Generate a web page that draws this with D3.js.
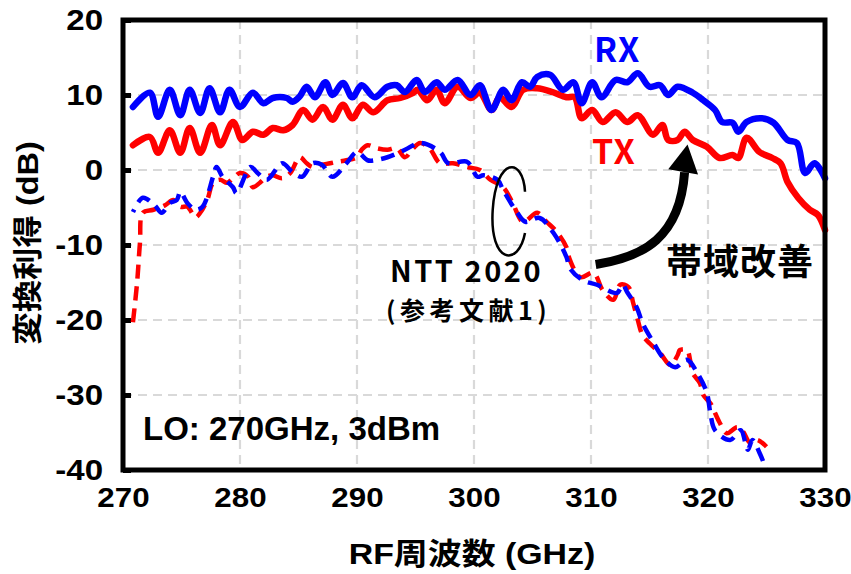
<!DOCTYPE html>
<html><head><meta charset="utf-8">
<script src="https://cdn.jsdelivr.net/npm/d3@7"></script>
<style>
html,body{margin:0;padding:0;background:#fff;}
svg{display:block;}
</style></head>
<body><svg id="c" width="851" height="574"></svg>
<script>
// RF frequency (GHz) / conversion gain (dB)
const rxFreq = [270.85,272.3,273.0,274.0,274.9,275.7,276.6,277.4,278.3,279.1,280.0,281.1,282.0,282.8,284.0,284.5,285.1,285.7,286.4,287.3,287.9,288.8,289.6,290.4,291.5,292.6,293.4,294.1,295.1,295.8,296.8,297.5,298.6,299.7,300.5,301.5,302.5,303.2,304.1,304.8,305.4,306.5,307.6,308.5,309.2,310.1,310.9,312.1,313.1,314.0,315.0,315.9,316.6,317.4,318.7,319.6,320.6,321.2,322.1,322.6,323.3,324.6,325.6,326.8,327.6,328.3,329.1,330.0];
const rxGain = [8.4,10.3,7.1,10.7,7.3,10.7,7.6,10.9,7.7,10.7,8.4,10.3,8.9,9.6,9.6,9.1,9.8,11.1,9.7,11.7,10.0,11.6,9.7,11.3,9.7,11.1,11.3,10.4,12.0,10.4,11.7,10.7,12.0,10.0,11.3,8.0,10.7,9.3,11.7,11.1,12.4,12.7,10.7,11.7,8.9,11.7,9.7,12.0,11.7,12.9,11.1,11.3,10.0,11.1,10.3,9.3,8.0,6.4,6.3,5.1,6.4,6.9,6.3,4.0,3.6,-0.4,0.9,-1.1];

const txFreq = [270.85,272.3,273.0,274.0,274.9,275.7,276.6,277.6,278.3,279.4,280.2,281.1,282.0,282.8,283.7,284.5,285.4,286.2,287.1,287.9,288.8,289.6,290.5,291.4,292.6,293.7,294.8,295.2,296.0,296.8,297.5,298.6,299.7,300.5,301.5,302.2,303.2,304.2,305.4,306.7,307.9,308.6,309.2,310.1,311.0,312.1,313.1,314.0,315.3,316.1,316.6,317.4,318.0,318.7,319.9,321.0,322.1,322.6,323.3,324.4,325.5,326.2,326.8,327.7,328.7,329.4,330.0];
const txGain = [3.3,4.4,2.3,5.3,2.3,5.6,2.3,6.0,3.3,6.4,4.0,5.1,4.7,5.6,5.3,6.0,8.0,6.7,8.4,6.7,8.7,6.9,8.7,7.7,9.3,9.6,10.3,10.7,9.3,10.7,8.9,11.1,9.6,10.3,8.0,9.7,8.4,10.7,10.9,10.4,9.7,9.7,6.9,8.0,6.4,7.7,6.4,7.3,4.7,6.0,4.0,4.0,5.1,4.0,3.1,1.6,2.0,1.6,4.3,2.4,1.6,0.9,-1.6,-3.7,-5.3,-6.0,-8.0];

// NTT 2020 (reference 1)
const nttTxFreq = [270.85,271.2,271.45,271.7,272.6,273.6,274.3,274.9,275.5,276.2,276.6,277.2,277.7,278.3,278.9,279.4,280.0,280.7,281.1,281.7,282.3,282.8,283.6,284.3,285.1,285.7,286.2,287.0,287.7,288.3,289.1,290.0,290.4,290.9,291.7,292.6,293.4,294.1,294.8,295.4,296.2,297.1,298.2,299.4,300.5,301.4,302.5,303.3,304.2,305.4,306.2,307.1,307.9,308.2,309.1,310.2,311.0,311.9,312.5,313.2,313.6,314.0,314.4,315.0,315.9,316.8,317.4,317.6,318.2,318.5,318.7,319.3,319.6,320.2,320.6,321.0,321.6,322.5,323.0,323.6,324.2,325.0];
const nttTxGain = [-20.3,-15.1,-9.7,-5.7,-5.3,-4.7,-4.0,-4.9,-4.9,-6.3,-5.7,-4.0,-1.7,-1.3,-1.7,-1.1,-0.4,-0.9,-2.3,-1.7,-0.9,-0.7,-1.1,-0.4,1.7,0.9,0.4,0.7,0.9,1.1,1.3,1.7,2.7,3.3,2.9,2.7,2.9,1.7,2.9,3.6,2.9,0.9,0.9,0.4,0,-1.3,-2.3,-4.4,-6.9,-5.7,-6.9,-8.3,-10.3,-12.0,-14.3,-13.7,-16.0,-17.3,-15.3,-15.6,-17.7,-20.0,-22.0,-23.1,-24.4,-26.0,-24.7,-24.0,-24.0,-25.6,-27.1,-28.4,-30.0,-31.1,-32.4,-33.7,-35.1,-34.3,-34.9,-36.4,-36.0,-36.9];

const nttRxFreq = [270.85,271.7,272.7,273.3,274.0,274.6,274.9,275.5,276.2,276.8,277.7,278.0,278.5,279.4,279.7,280.9,281.5,282.3,283.6,284.5,285.3,286.2,287.0,287.9,289.1,290.0,290.9,291.5,292.6,294.1,295.4,297.1,297.8,299.4,300.3,300.8,302.0,302.5,303.7,304.4,305.6,306.8,307.9,308.2,309.3,310.5,312.2,312.7,313.1,313.9,314.4,315.3,316.2,317.2,318.2,319.1,319.9,320.2,320.6,321.9,322.8,323.4,323.8,324.4,325.0];
const nttRxGain = [-5.6,-3.7,-4.7,-5.7,-4.4,-4.0,-2.9,-4.4,-5.3,-4.9,-0.9,0.4,-0.9,-2.3,-3.1,0.4,-0.4,-1.3,0.9,-0.3,-0.9,0.9,0.7,-0.9,0.9,2.4,1.3,1.3,1.7,2.7,3.6,2.4,0.9,1.1,-0.9,-0.7,-1.3,-2.7,-5.7,-6.9,-6.4,-8.4,-11.6,-13.1,-14.7,-15.3,-16.4,-15.3,-16.3,-18.3,-20.4,-22.9,-25.1,-26.3,-25.3,-27.1,-29.7,-32.4,-34.7,-36.0,-34.7,-37.3,-36.0,-37.7,-40.0];

const xTicks = [270,280,290,300,310,320,330];
const yTicks = [-40,-30,-20,-10,0,10,20];

const svg = d3.select("#c");
const x = d3.scaleLinear().domain([270,330]).range([123,825]);
const y = d3.scaleLinear().domain([-40,20]).range([470,20]);
const latin = "'Liberation Sans', Arial, 'Noto Sans CJK JP', sans-serif";
const cjk = "'Noto Sans CJK JP', 'Liberation Sans', sans-serif";

// grid
const g = svg.append("g");
g.selectAll(".gx").data(xTicks.slice(1,-1)).join("line")
  .attr("x1",d=>x(d)).attr("x2",d=>x(d)).attr("y1",y(20)).attr("y2",y(-40))
  .attr("stroke","#d9d9d9").attr("stroke-width",2.2).attr("stroke-dasharray","9,6");
g.selectAll(".gy").data(yTicks.slice(1,-1)).join("line")
  .attr("y1",d=>y(d)).attr("y2",d=>y(d)).attr("x1",x(270)).attr("x2",x(330))
  .attr("stroke","#d9d9d9").attr("stroke-width",2.2).attr("stroke-dasharray","9,6");

// axes
const xAxis = d3.axisBottom(x).tickValues(xTicks).tickSize(0).tickPadding(17).tickFormat(d=>String(d));
const yAxis = d3.axisLeft(y).tickValues(yTicks).tickSize(-8).tickPadding(22).tickFormat(d=>String(d));
const ax = svg.append("g").attr("transform",`translate(0,${y(-40)})`).call(xAxis);
const ay = svg.append("g").attr("transform",`translate(${x(270)},0)`).call(yAxis);
[ax,ay].forEach(a=>{
  a.select(".domain").remove();
  a.selectAll("text").attr("font-family",latin).attr("font-weight","bold").attr("font-size",28).attr("fill","#000");
  a.selectAll("line").attr("stroke","#000").attr("stroke-width",5);
});
ax.selectAll("text").attr("dy","0.71em").attr("x",0).attr("transform","scale(1.12,1)");
ay.selectAll("text").attr("x",-20/1.14).attr("font-size",29).attr("transform","scale(1.14,1)");

// lines
const lineOf = (fx, gy) => d3.line().curve(d3.curveCatmullRom.alpha(0.5)).x((d,i)=>x(fx[i])).y((d,i)=>y(gy[i]))(gy);
svg.append("path").attr("d",lineOf(nttTxFreq,nttTxGain)).attr("fill","none")
  .attr("stroke","#ff0000").attr("stroke-width",4.5).attr("stroke-dasharray","14,8").attr("stroke-linejoin","round");
svg.append("path").attr("d",lineOf(nttRxFreq,nttRxGain)).attr("fill","none")
  .attr("stroke","#0000ff").attr("stroke-width",4.5).attr("stroke-dasharray","14,8").attr("stroke-dashoffset",11).attr("stroke-linejoin","round");
svg.append("path").attr("d",lineOf(txFreq,txGain)).attr("fill","none")
  .attr("stroke","#ff0000").attr("stroke-width",6.5).attr("stroke-linejoin","round").attr("stroke-linecap","round");
svg.append("path").attr("d",lineOf(rxFreq,rxGain)).attr("fill","none")
  .attr("stroke","#0000ff").attr("stroke-width",6.5).attr("stroke-linejoin","round").attr("stroke-linecap","round");

// frame
svg.append("rect").attr("x",x(270)).attr("y",y(20)).attr("width",x(330)-x(270)).attr("height",y(-40)-y(20))
  .attr("fill","none").attr("stroke","#000").attr("stroke-width",5);

// axis titles
svg.append("text").attr("transform","translate(472,564) scale(1.13,1)").attr("text-anchor","middle")
  .attr("font-family",latin).attr("font-weight","bold").attr("font-size",30).text("RF周波数 (GHz)");
svg.append("text").attr("transform","translate(38,243) rotate(-90) scale(1.08,1)").attr("text-anchor","middle")
  .attr("font-family",latin).attr("font-weight","bold").attr("font-size",30).text("変換利得 (dB)");

// labels
svg.append("text").attr("x",594).attr("y",62).attr("font-family",cjk).attr("font-weight","bold")
  .attr("font-size",34).attr("letter-spacing",1).attr("fill","#0000ff").text("RX");
svg.append("text").attr("x",592).attr("y",164).attr("font-family",cjk).attr("font-weight","bold")
  .attr("font-size",34).attr("letter-spacing",1).attr("fill","#ff0000").text("TX");
svg.append("text").attr("x",143).attr("y",440).attr("font-family",latin).attr("font-weight","bold")
  .attr("font-size",33).text("LO: 270GHz, 3dBm");
svg.append("text").attr("x",390).attr("y",282).attr("font-family",cjk).attr("font-weight","bold")
  .attr("font-size",29).attr("letter-spacing",2.5).text("NTT 2020");
svg.append("text").attr("x",386).attr("y",320).attr("font-family",cjk).attr("font-weight","bold")
  .attr("font-size",25).attr("letter-spacing",4.5).text("(参考文献1)");
svg.append("text").attr("x",666).attr("y",275).attr("font-family",cjk).attr("font-weight","bold")
  .attr("font-size",36).attr("letter-spacing",1).text("帯域改善");

// ellipse-like bracket around the NTT curves
const ep = d3.path();
ep.moveTo(x(304.36),y(-2.9));
ep.bezierCurveTo(x(304.2),y(1.8),x(301.9),y(1.8),x(301.6),y(-5.3));
ep.bezierCurveTo(x(301.3),y(-12.5),x(303.8),y(-13.0),x(304.36),y(-8.4));
svg.append("path").attr("d",ep.toString()).attr("fill","none").attr("stroke","#000").attr("stroke-width",2.5);

// arrow
const ap = d3.path();
ap.moveTo(x(310.4),y(-12.6));
ap.bezierCurveTo(x(314.5),y(-11.6),x(317.6),y(-9.0),x(318.0),y(-0.3));
svg.append("path").attr("d",ap.toString()).attr("fill","none").attr("stroke","#000").attr("stroke-width",9);
svg.append("path").attr("d",`M${x(318.25)},${y(3.4)} L${x(316.6)},${y(0.1)} L${x(319.15)},${y(-0.6)} Z`).attr("fill","#000");
</script></body></html>
